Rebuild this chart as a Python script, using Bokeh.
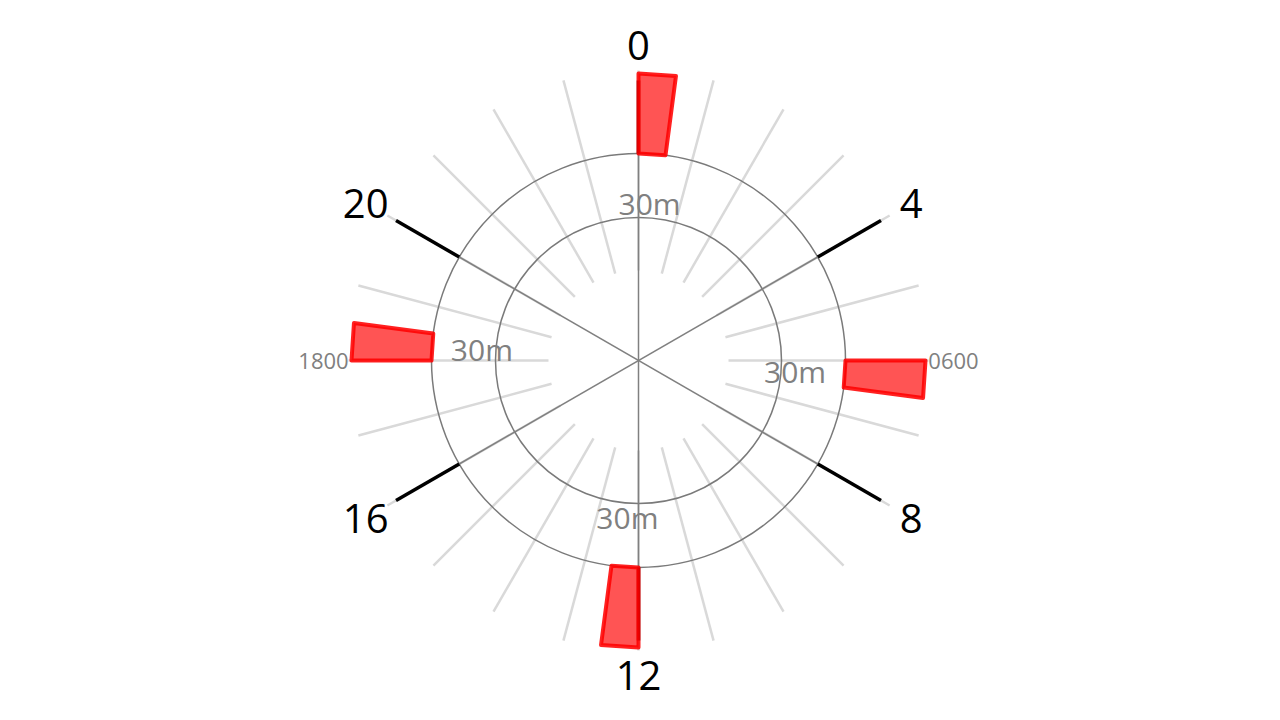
import numpy as np
from bokeh.plotting import figure
from bokeh.models import Range1d
from bokeh.core.properties import value
from bokeh.embed import file_html
from bokeh.resources import INLINE

# ---- data ----
event_hours = [0, 6, 12, 18]          # start hour of each event
event_minutes = [30, 30, 30, 30]      # duration of each event
hour_ticks = [0, 4, 8, 12, 16, 20]
hour_labels = ["0", "4", "8", "12", "16", "20"]
side_hours = [6, 18]
side_labels = ["0600", "1800"]
ring_labels = ["30m", "30m", "30m", "30m"]
ring_label_hours = [0, 6, 12, 18]

# ---- geometry (pixels, 1 data unit = 1 px) ----
R_RAY_IN, R_RAY_OUT = 90, 290
R_INNER, R_OUTER = 143, 207
R_BAR_OUT = 287
R_TICK_OUT = 280
R_LABEL = 315
R_RING_LABEL = 157
W, H = 1264, 704
CX, CY = 638, 360  # center in figure pixels from left / top


def pol(h, r):
    th = np.radians(90 - np.asarray(h, dtype=float) * 15)
    return r * np.cos(th), r * np.sin(th)


p = figure(width=W, height=H, output_backend="svg", toolbar_location=None,
           x_range=Range1d(-CX, W - CX), y_range=Range1d(-(H - CY), CY),
           min_border=0)
p.axis.visible = False
p.grid.visible = False
p.outline_line_color = None
p.background_fill_color = "white"

# light radial rays every hour
hrs = np.arange(24)
x0, y0 = pol(hrs, R_RAY_IN)
x1, y1 = pol(hrs, R_RAY_OUT)
p.segment(x0, y0, x1, y1, line_color="#d9d9d9", line_width=2.5)

# rings
p.circle(x=[0, 0], y=[0, 0], radius=[R_INNER, R_OUTER], fill_color=None,
         line_color="#7a7a7a", line_width=1.5)

# axis lines through the centre
diam = np.array([0, 4, 8])
ax0, ay0 = pol(diam, R_OUTER)
ax1, ay1 = pol(diam + 12, R_OUTER)
p.segment(ax0, ay0, ax1, ay1, line_color="#808080", line_width=1.5)

# black tick segments
tx0, ty0 = pol(hour_ticks, R_OUTER)
tx1, ty1 = pol(hour_ticks, R_TICK_OUT)
p.segment(tx0, ty0, tx1, ty1, line_color="black", line_width=3.5)

# event bars
xs, ys = [], []
for h, m in zip(event_hours, event_minutes):
    h2 = h + m / 60.0
    hh = [h, h, h2, h2]
    rr = [R_OUTER, R_BAR_OUT, R_BAR_OUT, R_OUTER]
    px, py = pol(hh, np.array(rr, dtype=float))
    xs.append(list(px))
    ys.append(list(py))
p.patches(xs, ys, fill_color="red", fill_alpha=0.67, line_color="red",
          line_alpha=0.87, line_width=4, line_join="round")

# hour labels
lx, ly = pol(hour_ticks, R_LABEL)
p.text(lx, ly, text=hour_labels, text_font=value("Open Sans"),
       text_font_size="40px", text_color="black", text_align="center",
       text_baseline="middle")

# side labels
sx, sy = pol(side_hours, R_LABEL)
p.text(sx, sy, text=side_labels, text_font=value("Open Sans"),
       text_font_size="22px", text_color="#808080", text_align="center",
       text_baseline="middle")

# ring labels
rx, ry = pol(np.array(ring_label_hours) + 0.27, R_RING_LABEL)
p.text(rx, ry, text=ring_labels, text_font=value("Open Sans"),
       text_font_size="30px", text_color="#808080", text_align="center",
       text_baseline="middle")

open("out.html", "w").write(file_html(p, INLINE))
